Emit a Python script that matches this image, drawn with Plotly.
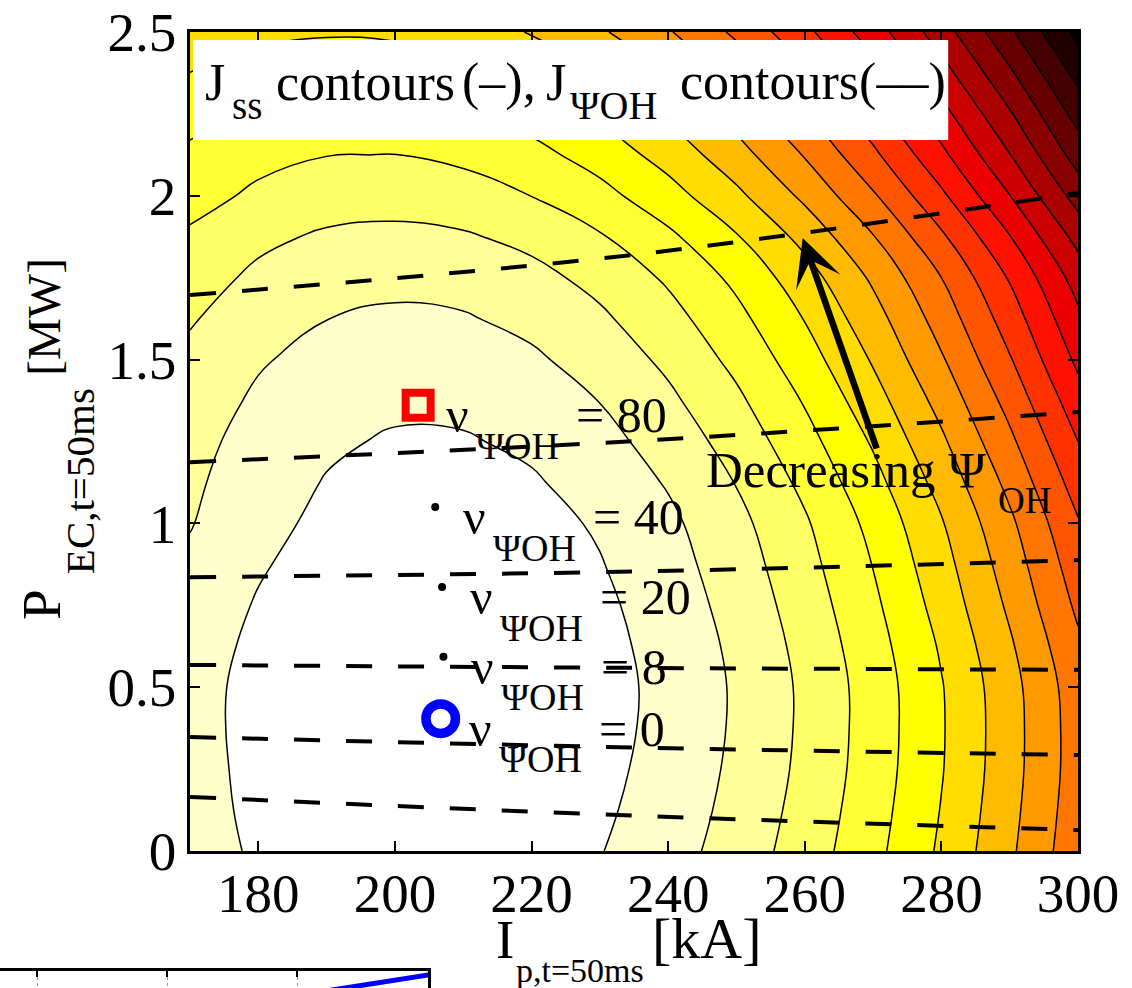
import plotly.graph_objects as go

W, H = 1132, 988

# ---- steady-state current drive J_ss on an (I_p, P_EC) grid --------------------
ip_ka = [170, 180, 190, 200, 210, 220, 230, 240, 250, 260, 270, 280, 290, 300]
pec_mw = [0.0, 0.125, 0.25, 0.375, 0.5, 0.625, 0.75, 0.875, 1.0, 1.125, 1.25,
          1.375, 1.5, 1.625, 1.75, 1.875, 2.0, 2.125, 2.25, 2.375, 2.5]
jss = [
    [1.45, 0.86, 0.47, 0.29, 0.31, 0.53, 0.96, 1.59, 2.43, 3.47, 4.71, 6.16, 7.82, 9.67],
    [1.39, 0.78, 0.38, 0.18, 0.19, 0.41, 0.83, 1.46, 2.29, 3.34, 4.58, 6.04, 7.70, 9.56],
    [1.36, 0.73, 0.31, 0.11, 0.11, 0.31, 0.73, 1.36, 2.19, 3.23, 4.48, 5.94, 7.61, 9.48],
    [1.33, 0.70, 0.27, 0.05, 0.04, 0.25, 0.66, 1.29, 2.13, 3.18, 4.44, 5.91, 7.59, 9.48],
    [1.35, 0.70, 0.26, 0.03, 0.02, 0.23, 0.64, 1.27, 2.12, 3.18, 4.45, 5.94, 7.64, 9.55],
    [1.46, 0.78, 0.32, 0.09, 0.07, 0.27, 0.70, 1.34, 2.20, 3.29, 4.59, 6.11, 7.86, 9.82],
    [1.62, 0.92, 0.44, 0.19, 0.17, 0.37, 0.80, 1.46, 2.35, 3.46, 4.80, 6.37, 8.17, 10.19],
    [1.83, 1.10, 0.60, 0.34, 0.31, 0.51, 0.95, 1.62, 2.52, 3.66, 5.03, 6.63, 8.47, 10.54],
    [2.05, 1.29, 0.78, 0.50, 0.46, 0.67, 1.11, 1.79, 2.72, 3.88, 5.28, 6.92, 8.80, 10.92],
    [2.18, 1.44, 0.95, 0.69, 0.67, 0.90, 1.37, 2.08, 3.04, 4.23, 5.67, 7.35, 9.27, 11.44],
    [2.33, 1.61, 1.14, 0.90, 0.92, 1.17, 1.67, 2.42, 3.40, 4.64, 6.11, 7.83, 9.79, 12.00],
    [2.54, 1.84, 1.38, 1.18, 1.21, 1.49, 2.02, 2.80, 3.81, 5.08, 6.59, 8.34, 10.34, 12.59],
    [2.77, 2.10, 1.66, 1.48, 1.54, 1.85, 2.40, 3.21, 4.26, 5.55, 7.10, 8.89, 10.92, 13.21],
    [3.09, 2.43, 2.01, 1.84, 1.92, 2.25, 2.83, 3.65, 4.72, 6.04, 7.60, 9.42, 11.48, 13.79],
    [3.44, 2.80, 2.40, 2.25, 2.35, 2.70, 3.30, 4.14, 5.23, 6.57, 8.16, 10.00, 12.09, 14.43],
    [3.84, 3.22, 2.86, 2.75, 2.89, 3.27, 3.91, 4.80, 5.93, 7.31, 8.95, 10.83, 12.96, 15.34],
    [4.38, 3.81, 3.48, 3.41, 3.58, 4.01, 4.68, 5.61, 6.78, 8.21, 9.88, 11.81, 13.98, 16.41],
    [4.81, 4.29, 4.02, 3.99, 4.21, 4.69, 5.41, 6.38, 7.60, 9.07, 10.79, 12.76, 14.97, 17.44],
    [5.34, 4.86, 4.63, 4.64, 4.90, 5.40, 6.16, 7.16, 8.41, 9.91, 11.66, 13.65, 15.89, 18.38],
    [5.99, 5.54, 5.34, 5.39, 5.68, 6.21, 6.99, 8.02, 9.29, 10.81, 12.58, 14.59, 16.84, 19.34],
    [6.69, 6.28, 6.10, 6.18, 6.50, 7.06, 7.86, 8.91, 10.20, 11.74, 13.52, 15.54, 17.81, 20.32],
]

# ---- J_PsiOH contours (dashed), sampled at three plasma currents ---------------
psi_ip = [170, 235, 300]
psi_pec = [
    [0.165, 0.108, 0.064],
    [0.348, 0.316, 0.293],
    [0.568, 0.559, 0.553],
    [0.836, 0.853, 0.888],
    [1.187, 1.251, 1.340],
    [1.697, 1.820, 2.009],
]

# ---- operating points and their nu_PsiOH ----------------------------------------
op_ip = [203.4, 205.9, 206.9, 207.1, 206.7]
op_pec = [1.361, 1.05, 0.806, 0.593, 0.404]
nu_psi = [80, 40, 20, 8, 0]

# ---- "Decreasing Psi_OH" arrow (tail -> tip) ------------------------------------
arrow_ip = [270.6, 259.7]
arrow_pec = [1.224, 1.871]

# ---- edge of the panel underneath -----------------------------------------------
lower_x = [2.2, 3.1]
lower_y = [-0.2, 0.88]

# reversed "hot" colormap, one colour per filled band
hot_r = ['rgb(255,255,255)', 'rgb(255,255,204)', 'rgb(255,255,153)', 'rgb(255,255,102)',
         'rgb(255,255,51)', 'rgb(255,255,0)', 'rgb(255,221,0)', 'rgb(255,187,0)',
         'rgb(255,153,0)', 'rgb(255,119,0)', 'rgb(255,85,0)', 'rgb(255,51,0)',
         'rgb(255,17,0)', 'rgb(238,0,0)', 'rgb(204,0,0)', 'rgb(170,0,0)',
         'rgb(136,0,0)', 'rgb(102,0,0)', 'rgb(68,0,0)', 'rgb(34,0,0)', 'rgb(0,0,0)']
colorscale = [[j / (len(hot_r) - 1), c] for j, c in enumerate(hot_r)]

SERIF = "Liberation Serif"

fig = go.Figure()

fig.add_trace(go.Contour(
    x=ip_ka, y=pec_mw, z=jss,
    autocontour=False,
    contours=dict(start=1, end=20, size=1, coloring='fill', showlines=True),
    line=dict(color='black', width=1.5, smoothing=1.3),
    colorscale=colorscale, showscale=False, hoverinfo='skip',
))

for row in psi_pec:
    fig.add_trace(go.Scatter(
        x=psi_ip, y=row, mode='lines', line_shape='spline',
        line=dict(color='black', width=4, dash='26px,26px'),
        hoverinfo='skip',
    ))

# black dots for the intermediate points
fig.add_trace(go.Scatter(
    x=op_ip[1:4], y=op_pec[1:4], mode='markers',
    marker=dict(symbol='circle', size=8, color='black'), hoverinfo='skip',
))
fig.add_trace(go.Scatter(
    x=op_ip[:1], y=op_pec[:1], mode='markers',
    marker=dict(symbol='square-open', size=25, color='#ff0000',
                line=dict(width=8, color='#ff0000')), hoverinfo='skip',
))
fig.add_trace(go.Scatter(
    x=op_ip[-1:], y=op_pec[-1:], mode='markers',
    marker=dict(symbol='circle-open', size=29.5, color='#0000ff',
                line=dict(width=9.5, color='#0000ff')), hoverinfo='skip',
))

# panel below (only its top edge is in view)
fig.add_trace(go.Scatter(
    x=lower_x, y=lower_y, mode='lines', xaxis='x2', yaxis='y2',
    line=dict(color='#0000ff', width=5), hoverinfo='skip',
))

annotations = []


def htext(text, px, base, size):
    """Horizontal text whose left edge is at px and baseline at base (pixels)."""
    annotations.append(dict(
        text=text, xref='paper', yref='paper', showarrow=False,
        x=px / W, y=1 - (base - 0.3375 * size) / H,
        xanchor='left', yanchor='middle', borderpad=0,
        font=dict(family=SERIF, size=size, color='black'),
    ))


def vtext(text, base_x, start_y, size):
    """Text rotated to read upward; baseline at base_x, starting at start_y (pixels)."""
    annotations.append(dict(
        text=text, xref='paper', yref='paper', showarrow=False, textangle=-90,
        x=(base_x - 0.3375 * size) / W, y=1 - start_y / H,
        xanchor='center', yanchor='bottom', borderpad=0,
        font=dict(family=SERIF, size=size, color='black'),
    ))


# legend line inside the white box
htext('J', 204, 100, 52)
htext('ss', 231, 119, 39)
htext('contours', 275, 100, 52)
htext('(–),', 461, 100, 52)
htext('J', 545, 100, 52)
htext('ΨOH', 569, 119, 40)
htext('contours(––)', 679, 100, 52)

# arrow annotation
htext('Decreasing Ψ', 705, 487, 51)
htext('OH', 997, 513, 37)
annotations.append(dict(
    x=arrow_ip[1], y=arrow_pec[1], ax=arrow_ip[0], ay=arrow_pec[0],
    xref='x', yref='y', axref='x', ayref='y', text='', showarrow=True,
    arrowhead=3, arrowsize=1.2, arrowwidth=6.5, arrowcolor='black',
    standoff=0, startstandoff=0,
))

# nu_PsiOH labels next to each operating point
for xi, yi, nu in zip(op_ip, op_pec, nu_psi):
    for txt, dx, dy, size in (('ν', 27, -10.1, 50),
                              ('ΨOH', 57, -40.7, 38),
                              ('= %d' % nu, 157, -10.1, 50)):
        annotations.append(dict(
            text=txt, x=xi, y=yi, xref='x', yref='y', showarrow=False,
            xanchor='left', yanchor='middle', xshift=dx, yshift=dy, borderpad=0,
            font=dict(family=SERIF, size=size, color='black'),
        ))

# axis titles
htext('I', 495, 958, 55)
htext('p,t=50ms', 515, 982, 34)
htext('[kA]', 651, 958, 58)
vtext('P', 60, 621, 55)
vtext('EC,t=50ms', 94, 575, 41)
vtext('[MW]', 60, 377, 47)

tick_font = dict(family=SERIF, size=55, color='black')

fig.update_layout(
    width=W, height=H, margin=dict(l=0, r=0, t=0, b=0, autoexpand=False),
    paper_bgcolor='white', plot_bgcolor='white', showlegend=False,
    annotations=annotations,
    shapes=[dict(type='rect', xref='x', yref='y', x0=170.44, x1=281.0,
                 y0=2.1703, y1=2.4756, fillcolor='white', line=dict(width=0),
                 layer='above')],
    xaxis=dict(
        domain=[190 / W, 1078 / W], range=[170, 300], anchor='y', automargin=False,
        tickvals=[180, 200, 220, 240, 260, 280, 300],
        ticks='inside', ticklen=10, tickwidth=1.5, tickcolor='black',
        ticklabelstandoff=-8,
        showline=True, linecolor='black', linewidth=2.5, mirror='ticks',
        showgrid=False, zeroline=False, tickfont=tick_font,
    ),
    yaxis=dict(
        domain=[1 - 851 / H, 1 - 32 / H], range=[0, 2.5], anchor='x', automargin=False,
        tickvals=[0, 0.5, 1, 1.5, 2, 2.5], ticktext=['0', '0.5', '1', '1.5', '2', '2.5'],
        ticks='inside', ticklen=10, tickwidth=1.5, tickcolor='black',
        showline=True, linecolor='black', linewidth=2.5, mirror='ticks',
        showgrid=False, zeroline=False, tickfont=tick_font,
    ),
    xaxis2=dict(
        domain=[0, 428 / W], range=[-0.2846, 3.0077], anchor='y2', side='top',
        automargin=False,
        tickvals=[0, 1, 2], ticks='inside', ticklen=6, tickwidth=1.5, tickcolor='black',
        showticklabels=False, showline=True, linecolor='black', linewidth=2.5,
        showgrid=True, gridcolor='#9a9a9a', griddash='dot', gridwidth=1, zeroline=False,
    ),
    yaxis2=dict(
        domain=[0, 1 - 971 / H], range=[0, 1], anchor='x2', side='right',
        automargin=False,
        showticklabels=False, ticks='', showline=True, linecolor='black', linewidth=2.5,
        showgrid=False, zeroline=False,
    ),
)

fig.write_html("out.html")
